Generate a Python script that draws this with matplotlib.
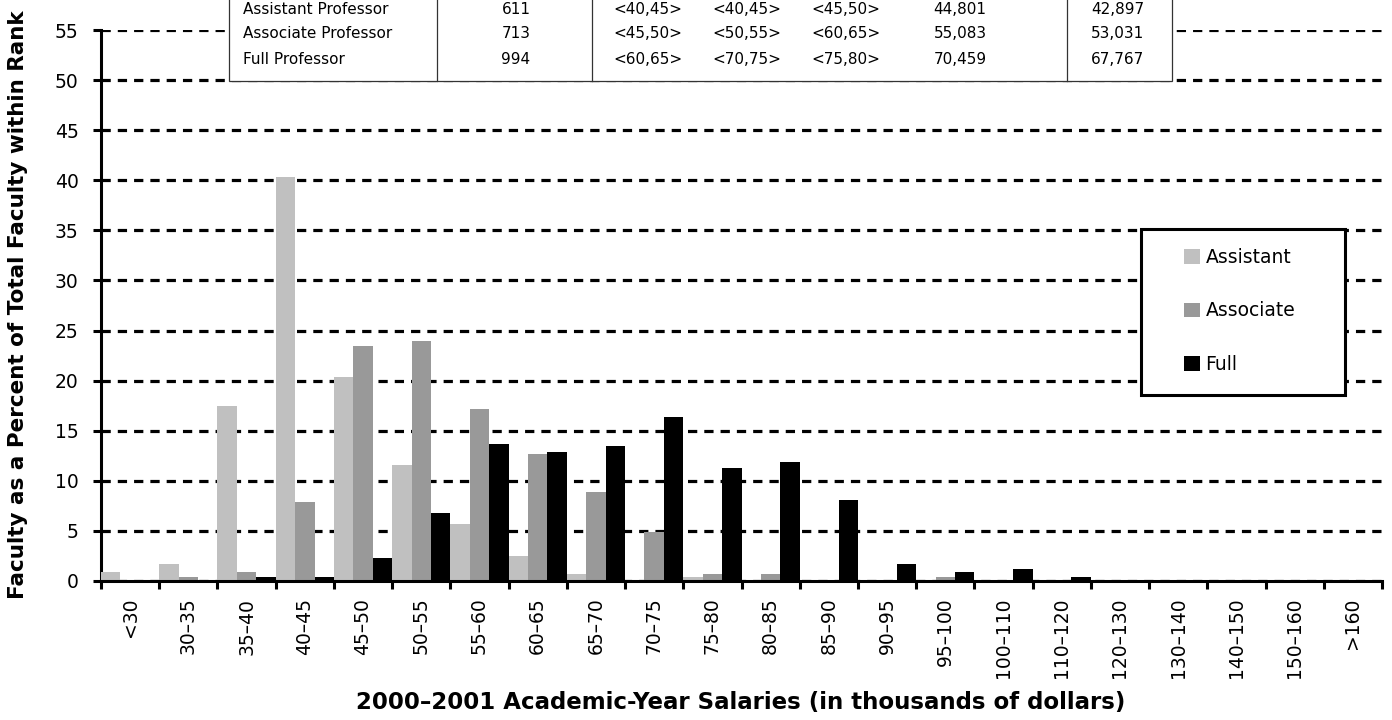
import matplotlib
matplotlib.use("Agg")
import matplotlib.pyplot as plt
from matplotlib.patches import Rectangle
from matplotlib.lines import Line2D
import numpy as np

# salary bins (thousands of dollars)
bins = ["<30", "30\u201335", "35\u201340", "40\u201345", "45\u201350", "50\u201355",
        "55\u201360", "60\u201365", "65\u201370", "70\u201375", "75\u201380", "80\u201385",
        "85\u201390", "90\u201395", "95\u2013100", "100\u2013110", "110\u2013120",
        "120\u2013130", "130\u2013140", "140\u2013150", "150\u2013160", ">160"]

# percent of faculty within rank
assistant = [0.9, 1.7, 17.5, 40.3, 20.4, 11.6, 5.7, 2.5, 0.7, 0, 0.4, 0,
             0, 0, 0, 0, 0, 0, 0, 0, 0, 0]
associate = [0, 0.4, 0.9, 7.9, 23.5, 24.0, 17.2, 12.7, 8.9, 4.9, 0.7, 0.7,
             0, 0, 0.4, 0, 0, 0, 0, 0, 0, 0]
full = [0, 0, 0.4, 0.4, 2.3, 6.8, 13.7, 12.9, 13.5, 16.4, 11.3, 11.9,
        8.1, 1.7, 0.9, 1.2, 0.4, 0, 0, 0, 0, 0]

# summary table at the top
tbl_rank = ["Assistant Professor", "Associate Professor", "Full Professor"]
tbl_count = ["611", "713", "994"]
tbl_r1 = ["<40,45>", "<45,50>", "<60,65>"]
tbl_r2 = ["<40,45>", "<50,55>", "<70,75>"]
tbl_r3 = ["<45,50>", "<60,65>", "<75,80>"]
tbl_mean = ["44,801", "55,083", "70,459"]
tbl_median = ["42,897", "53,031", "67,767"]

plt.rcParams['font.family'] = ['DejaVu Sans']

W, H = 1392, 720
fig = plt.figure(figsize=(W / 100, H / 100), dpi=100)


def fx(x):
    return x / W


def fy(y):
    return 1 - y / H


ax = fig.add_axes([fx(101), fy(581), (1382 - 101) / W, (581 - 30) / H])

x = np.arange(len(bins))
w = 1 / 3
ax.bar(x, assistant, w, align='edge', color='#c0c0c0', label='Assistant', zorder=3)
ax.bar(x + w, associate, w, align='edge', color='#999999', label='Associate', zorder=3)
ax.bar(x + 2 * w, full, w, align='edge', color='black', label='Full', zorder=3)

ax.set_xlim(0, len(bins))
ax.set_ylim(0, 55)
ax.set_yticks(np.arange(0, 56, 5))
ax.set_yticklabels([str(v) for v in range(0, 56, 5)], fontsize=13.5)
ax.set_xticks(np.arange(0, len(bins) + 1))
ax.set_xticklabels([])
ax.set_xticks(x + 0.5, minor=True)
ax.set_xticklabels(bins, minor=True, rotation=90, fontsize=13.5)
ax.tick_params(axis='x', which='minor', length=0, pad=12)
ax.tick_params(axis='both', which='major', length=6, width=2.2, direction='out')
ax.tick_params(axis='y', pad=10)

ax.grid(axis='y', color='black', lw=2.3, linestyle=(0, (2.9, 2.2)))
ax.set_axisbelow(True)
for s in ['top', 'right']:
    ax.spines[s].set_visible(False)
for s in ['left', 'bottom']:
    ax.spines[s].set_linewidth(2.2)
ax.spines['bottom'].set_zorder(4)

fig.text(fx(741), fy(703), "2000\u20132001 Academic-Year Salaries (in thousands of dollars)",
         ha='center', va='center', fontsize=16.5, fontweight='bold')
fig.text(fx(18), fy(305), "Faculty as a Percent of Total Faculty within Rank",
         ha='center', va='center', rotation=90, fontsize=15.5, fontweight='bold')

# table box
edge = '#333333'
fig.add_artist(Rectangle((fx(229), fy(81)), (1172 - 229) / W, 81 / H + 0.05,
                         transform=fig.transFigure, facecolor='white',
                         edgecolor=edge, lw=0.9, zorder=5, clip_on=False))
for vx in [437, 592, 1067]:
    fig.add_artist(Line2D([fx(vx), fx(vx)], [fy(81), 1.05], transform=fig.transFigure,
                          color=edge, lw=0.9, zorder=6))
row_y = [10, 34, 59]
cols = [(tbl_count, 516), (tbl_r1, 648), (tbl_r2, 747), (tbl_r3, 846),
        (tbl_mean, 960), (tbl_median, 1118)]
for i, ry in enumerate(row_y):
    fig.text(fx(243), fy(ry), tbl_rank[i], ha='left', va='center', fontsize=11, zorder=7)
    for vals, cx in cols:
        fig.text(fx(cx), fy(ry), vals[i], ha='center', va='center', fontsize=11, zorder=7)

# legend box
fig.add_artist(Rectangle((fx(1141), fy(395)), (1345 - 1141) / W, (395 - 229) / H,
                         transform=fig.transFigure, facecolor='white',
                         edgecolor='black', lw=2.2, zorder=5))
leg = fig.legend(loc='center left', bbox_to_anchor=(fx(1184), fy(311)), frameon=False,
                 fontsize=13.5, handlelength=0.85, handleheight=0.85, handletextpad=0.3,
                 labelspacing=1.85, borderpad=0, borderaxespad=0)
leg.set_zorder(7)

fig.savefig("out.png", dpi=100)
